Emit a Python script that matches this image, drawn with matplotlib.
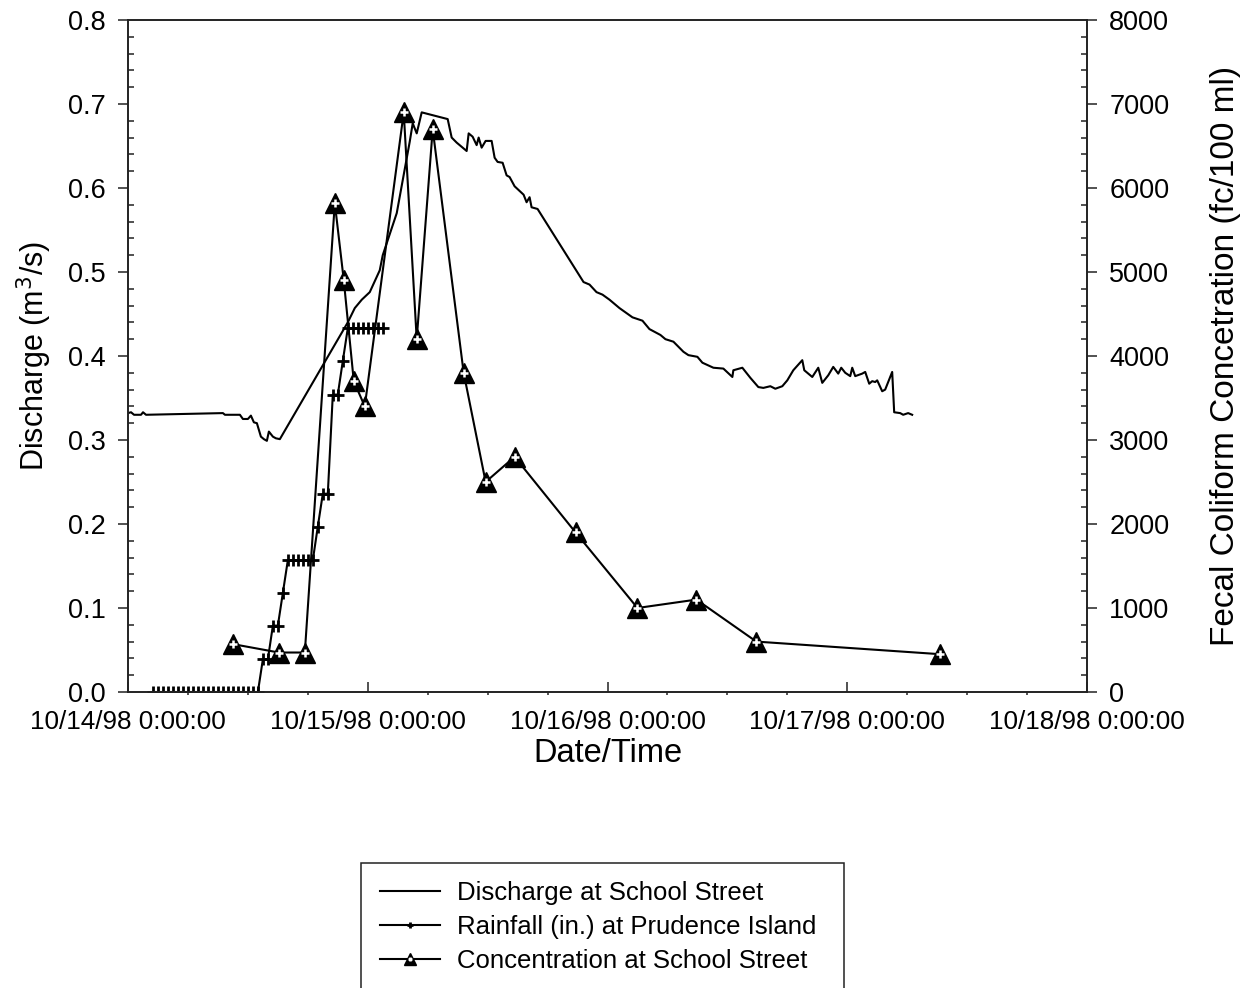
import numpy as np
import matplotlib
matplotlib.use("Agg")
import matplotlib.pyplot as plt
from matplotlib.ticker import MultipleLocator, FormatStrFormatter
from matplotlib.patches import Rectangle
from matplotlib.legend_handler import HandlerTuple

plt.rcParams['font.family'] = ['Liberation Sans', 'DejaVu Sans']

# hours after 10/14/98 0:00:00
discharge_hours = [0.0, 0.3, 0.6, 1.3, 1.5, 1.8, 9.5, 9.7, 11.2, 11.5, 12.0, 12.3, 12.6,
                   12.9, 13.3, 13.6, 13.9, 14.1, 14.5, 14.8, 15.2, 22.0, 22.7, 23.4, 24.2,
                   25.2, 25.5, 26.9, 28.2, 28.5, 28.9, 29.4, 32.0, 32.4, 32.9, 33.9, 34.1,
                   34.5, 34.9, 35.1, 35.4, 35.8, 36.4, 36.7, 37.0, 37.5, 37.9, 38.2, 38.7,
                   39.6, 39.9, 40.2, 40.4, 41.0, 45.6, 46.2, 46.9, 47.5, 48.2, 49.2, 50.5,
                   51.5, 52.2, 53.3, 53.8, 54.6, 55.6, 56.1, 57.0, 57.5, 58.6, 59.6, 60.5,
                   60.6, 61.5, 62.3, 63.1, 63.6, 64.3, 64.8, 65.5, 66.0, 66.6, 67.5, 67.7,
                   68.5, 69.1, 69.5, 70.1, 70.6, 71.1, 71.4, 71.8, 72.3, 72.5, 72.8, 73.5,
                   73.8, 74.2, 74.5, 74.8, 75.0, 75.5, 75.8, 76.5, 76.7, 77.3, 77.6, 78.1,
                   78.5]
discharge = [0.332, 0.333, 0.330, 0.330, 0.333, 0.330, 0.332, 0.330, 0.330, 0.325, 0.325,
             0.329, 0.321, 0.320, 0.304, 0.301, 0.299, 0.310, 0.304, 0.302, 0.301, 0.440,
             0.457, 0.467, 0.476, 0.502, 0.520, 0.570, 0.655, 0.677, 0.665, 0.690, 0.682,
             0.660, 0.654, 0.644, 0.665, 0.661, 0.651, 0.660, 0.648, 0.656, 0.656, 0.636,
             0.631, 0.630, 0.615, 0.613, 0.602, 0.592, 0.583, 0.589, 0.577, 0.575, 0.488,
             0.485, 0.476, 0.473, 0.467, 0.457, 0.446, 0.442, 0.432, 0.425, 0.420, 0.417,
             0.405, 0.401, 0.399, 0.392, 0.386, 0.385, 0.375, 0.383, 0.386, 0.374, 0.363,
             0.362, 0.364, 0.361, 0.364, 0.371, 0.383, 0.395, 0.383, 0.375, 0.386, 0.368,
             0.377, 0.387, 0.379, 0.386, 0.380, 0.376, 0.386, 0.376, 0.379, 0.381, 0.367,
             0.370, 0.369, 0.371, 0.358, 0.360, 0.381, 0.333, 0.332, 0.330, 0.332, 0.330]

rain_hours = [2.5, 3.0, 3.5, 4.0, 4.5, 5.0, 5.5, 6.0, 6.5, 7.0, 7.5, 8.0, 8.5, 9.0, 9.5,
              10.0, 10.5, 11.0, 11.5, 12.0, 12.5, 13.0, 13.5, 14.0, 14.5, 15.0, 15.5,
              16.0, 16.5, 17.0, 17.5, 18.0, 18.5, 19.0, 19.5, 20.0, 20.5, 21.0, 21.5,
              22.0, 22.5, 23.0, 23.5, 24.0, 24.5, 25.0, 25.5]
rainfall = [0.0, 0.0, 0.0, 0.0, 0.0, 0.0, 0.0, 0.0, 0.0, 0.0, 0.0, 0.0, 0.0, 0.0, 0.0,
            0.0, 0.0, 0.0, 0.0, 0.0, 0.0, 0.0, 0.039, 0.039, 0.079, 0.079, 0.118,
            0.157, 0.157, 0.157, 0.157, 0.157, 0.157, 0.197, 0.236, 0.236, 0.354, 0.354,
            0.394, 0.433, 0.433, 0.433, 0.433, 0.433, 0.433, 0.433, 0.433]

conc_hours = [10.5, 15.1, 17.7, 20.7, 21.6, 22.6, 23.7, 27.6, 28.9, 30.5, 33.6, 35.8,
              38.7, 44.8, 51.0, 56.9, 62.9, 81.3]
concentration = [570, 470, 470, 5820, 4900, 3700, 3400, 6900, 4200, 6700, 3800, 2500,
                 2800, 1900, 1000, 1100, 600, 450]

day_ticks = [0, 1, 2, 3, 4]
day_labels = ['10/14/98 0:00:00', '10/15/98 0:00:00', '10/16/98 0:00:00',
              '10/17/98 0:00:00', '10/18/98 0:00:00']

td = np.array(discharge_hours) / 24
tr = np.array(rain_hours) / 24
tc = np.array(conc_hours) / 24

fig = plt.figure(figsize=(12.54, 9.88), dpi=100)
ax = fig.add_axes([0.1021, 0.2996, 0.7647, 0.6802])
ax2 = ax.twinx()

l1, = ax.plot(td, discharge, color='black', lw=1.5)
l2, = ax.plot(tr, rainfall, color='black', lw=1.5, marker='+', ms=8, mew=2.0)
l3, = ax2.plot(tc, concentration, color='black', lw=1.5, marker='^', ms=14.5, zorder=3)
l4, = ax2.plot(tc, concentration, ls='none', marker='+', ms=6, mew=1.8,
               color='white', zorder=4)

ax.set_xlim(0, 4)
ax.set_ylim(0, 0.8)
ax2.set_ylim(0, 8000)

ax.set_xticks(day_ticks)
ax.set_xticklabels(day_labels)
ax.xaxis.set_minor_locator(MultipleLocator(0.25))
ax.yaxis.set_major_locator(MultipleLocator(0.1))
ax.yaxis.set_minor_locator(MultipleLocator(0.02))
ax.yaxis.set_major_formatter(FormatStrFormatter('%.1f'))
ax2.yaxis.set_major_locator(MultipleLocator(1000))
ax2.yaxis.set_minor_locator(MultipleLocator(200))

for a in (ax, ax2):
    for s in a.spines.values():
        s.set_linewidth(1.2)
        s.set_color('#222222')
    a.tick_params(axis='y', which='major', direction='out', length=7, width=1.1,
                  pad=9, labelsize=19.5, color='#222222')
    a.tick_params(axis='y', which='minor', direction='in', length=4.5, width=1.1,
                  color='#222222')
ax.tick_params(axis='x', which='major', direction='in', length=7, width=1.1,
               pad=13, labelsize=18.8, color='#222222')
ax.tick_params(axis='x', which='minor', direction='out', length=2, width=1.1,
               color='#222222')

ax.set_xlabel('Date/Time', fontsize=23.5, labelpad=3)
ax.set_ylabel('Discharge (m$^3$/s)', fontsize=22, labelpad=10)
ax2.set_ylabel('Fecal Coliform Concetration (fc/100 ml)', fontsize=24, labelpad=29)

# legend box below the plot
fig.patches.append(Rectangle((361 / 1254, -0.02), 483 / 1254, (1000 - 855) / 988,
                             transform=fig.transFigure, fill=False,
                             edgecolor='#222222', lw=1.1))
fig.legend([l1, l2, (l3, l4)],
           ['Discharge at School Street', 'Rainfall (in.) at Prudence Island',
            'Concentration at School Street'],
           handler_map={tuple: HandlerTuple(ndivide=1)},
           loc='upper left', bbox_to_anchor=(380 / 1254, 1 - 881 / 988),
           bbox_transform=fig.transFigure, frameon=False, fontsize=18.5,
           handlelength=2.33, handletextpad=0.66, labelspacing=0.38,
           borderpad=0, borderaxespad=0, markerscale=0.6)

fig.savefig('out.png', dpi=100)
